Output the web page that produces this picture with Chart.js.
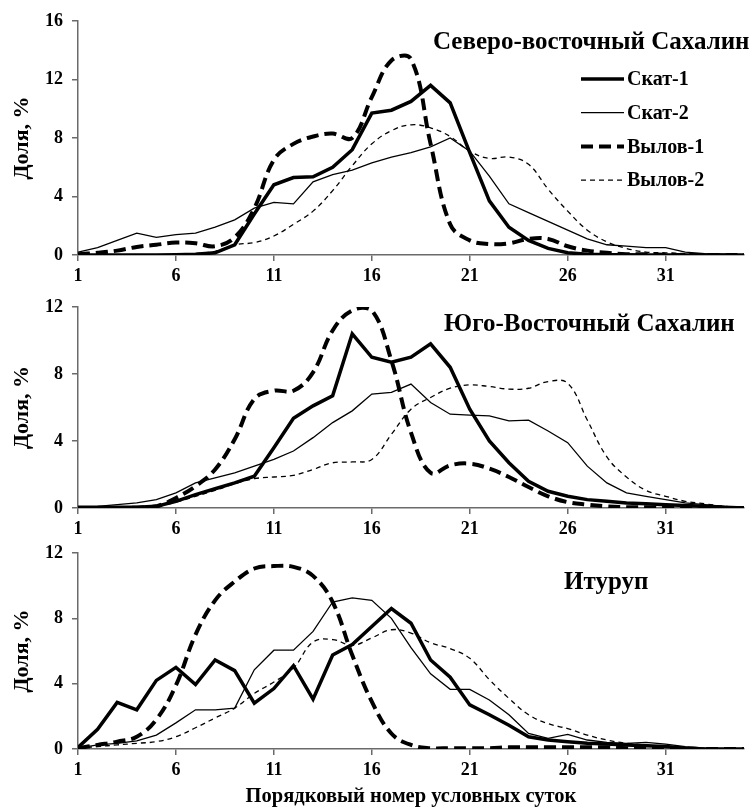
<!DOCTYPE html>
<html>
<head>
<meta charset="utf-8">
<script src="https://cdn.jsdelivr.net/npm/chart.js@4.4.0/dist/chart.umd.min.js"></script>
<style>
  body { margin: 0; background: #fff; }
  .panel { position: absolute; left: 0; }
</style>
</head>
<body>
<div class="panel" style="top:0"><canvas id="ne" width="756" height="282"></canvas></div>
<div class="panel" style="top:285px"><canvas id="se" width="756" height="250"></canvas></div>
<div class="panel" style="top:532px"><canvas id="it" width="756" height="275"></canvas></div>
<script>
// day numbers 1..35
const days = [1,2,3,4,5,6,7,8,9,10,11,12,13,14,15,16,17,18,19,20,21,22,23,24,25,26,27,28,29,30,31,32,33,34,35];
const xTicks = [1, 6, 11, 16, 21, 26, 31];
const seriesNames = ["Скат-1", "Скат-2", "Вылов-1", "Вылов-2"];

// Северо-восточный Сахалин
const skat1NE = [0,0,0,0,0,0.02,0.05,0.15,0.7,2.8,4.8,5.3,5.35,6.0,7.2,9.7,9.9,10.5,11.6,10.4,7.0,3.7,1.9,1.0,0.45,0.15,0.05,0.02,0.02,0,0,0,0,0,0];
const skat2NE = [0.2,0.5,1.0,1.5,1.2,1.4,1.5,1.9,2.4,3.2,3.6,3.5,5.0,5.5,5.8,6.3,6.7,7.0,7.4,8.0,7.1,5.4,3.5,2.9,2.3,1.7,1.1,0.7,0.6,0.5,0.5,0.2,0.1,0.05,0];
const vylov1NE = [0.05,0.15,0.3,0.55,0.7,0.85,0.8,0.6,1.2,3.2,6.5,7.6,8.1,8.3,8.0,10.8,13.3,13.4,7.6,2.1,1.0,0.75,0.8,1.1,1.1,0.6,0.3,0.15,0.05,0.05,0.02,0,0,0,0];
const vylov2NE = [0,0,0,0,0,0.02,0.1,0.25,0.7,0.85,1.3,2.1,3.0,4.4,6.1,7.6,8.5,8.9,8.7,8.1,7.1,6.6,6.7,6.2,4.5,3.0,1.7,0.9,0.45,0.2,0.15,0.1,0.05,0,0];

// Юго-Восточный Сахалин
const skat1SE = [0.05,0.05,0.05,0.05,0.1,0.4,0.8,1.15,1.5,1.9,3.6,5.35,6.1,6.7,10.4,9.0,8.7,9.0,9.8,8.4,5.9,4.0,2.7,1.6,1.0,0.7,0.5,0.4,0.3,0.25,0.2,0.15,0.1,0.05,0];
const skat2SE = [0.05,0.1,0.2,0.3,0.5,0.9,1.5,1.8,2.1,2.5,2.9,3.4,4.2,5.1,5.8,6.8,6.9,7.4,6.3,5.6,5.55,5.5,5.2,5.25,4.6,3.9,2.5,1.5,0.9,0.7,0.5,0.3,0.2,0.1,0.05];
const vylov1SE = [0,0,0,0.02,0.1,0.6,1.3,2.3,4.1,6.5,7.0,7.0,8.1,10.6,11.8,11.8,8.8,4.5,2.1,2.55,2.65,2.35,1.85,1.25,0.7,0.35,0.2,0.1,0.05,0.05,0.02,0,0,0,0];
const vylov2SE = [0,0.02,0.05,0.05,0.1,0.35,0.7,1.05,1.45,1.75,1.85,1.95,2.3,2.7,2.75,2.9,4.4,5.9,6.6,7.15,7.35,7.25,7.1,7.15,7.55,7.45,5.25,3.05,1.85,1.05,0.7,0.4,0.25,0.1,0.05];

// Итуруп
const skat1IT = [0.1,1.2,2.85,2.4,4.2,5.0,3.95,5.45,4.8,2.8,3.7,5.1,3.05,5.75,6.4,7.5,8.6,7.7,5.45,4.4,2.7,2.1,1.45,0.75,0.55,0.45,0.35,0.3,0.25,0.2,0.15,0.05,0,0,0];
const skat2IT = [0.05,0.25,0.35,0.5,0.85,1.6,2.4,2.4,2.5,4.85,6.05,6.05,7.2,9.0,9.25,9.1,8.0,6.2,4.6,3.65,3.65,3.0,2.1,0.95,0.65,0.9,0.55,0.4,0.35,0.4,0.3,0.15,0.05,0.02,0];
const vylov1IT = [0.05,0.25,0.45,0.75,1.8,3.9,7.0,9.1,10.25,11.05,11.2,11.15,10.6,9.0,5.75,2.9,0.95,0.25,0.05,0.05,0.05,0.05,0.1,0.1,0.1,0.1,0.1,0.1,0.05,0.05,0.05,0.02,0,0,0];
const vylov2IT = [0.05,0.15,0.25,0.35,0.45,0.75,1.3,1.9,2.5,3.4,4.1,4.95,6.55,6.7,6.35,6.8,7.3,7.1,6.5,6.15,5.55,4.25,3.1,2.1,1.55,1.25,0.85,0.55,0.35,0.25,0.15,0.05,0,0,0];

const FONT = '"Liberation Serif", "Times New Roman", serif';
const AXIS = '#6a6a6a';

function makeDatasets(s1, s2, v1, v2) {
  return [
    { label: seriesNames[0], data: s1, borderWidth: 3.5, borderDash: [], tension: 0 },
    { label: seriesNames[1], data: s2, borderWidth: 1.3, borderDash: [], tension: 0 },
    { label: seriesNames[2], data: v1, borderWidth: 4, borderDash: [12, 6], tension: 0.4 },
    { label: seriesNames[3], data: v2, borderWidth: 1.3, borderDash: [5, 4], tension: 0.4 },
  ].map(d => Object.assign(d, { borderColor: '#000', pointRadius: 0, fill: false }));
}

// panel caption + optional legend, drawn on top of the chart area
const panelText = {
  id: 'panelText',
  afterDraw(chart, args, o) {
    const ctx = chart.ctx;
    ctx.save();
    ctx.fillStyle = '#000';
    ctx.textBaseline = 'middle';
    ctx.font = 'bold 25px ' + FONT;
    ctx.fillText(o.text, o.x, o.y);
    if (o.legend) {
      ctx.font = 'bold 20px ' + FONT;
      chart.data.datasets.forEach((ds, i) => {
        const y = 79 + i * 33.7;
        ctx.beginPath();
        ctx.strokeStyle = '#000';
        ctx.lineWidth = ds.borderWidth;
        ctx.setLineDash(ds.borderDash);
        ctx.moveTo(581, y);
        ctx.lineTo(624, y);
        ctx.stroke();
        ctx.fillText(ds.label, 627, y + 1);
      });
    }
    ctx.restore();
  }
};

function makePanel(id, datasets, yMax, caption, xAxisHeight, topPad, showXTitle) {
  new Chart(document.getElementById(id), {
    type: 'line',
    data: { labels: days, datasets: datasets },
    plugins: [panelText],
    options: {
      responsive: false,
      animation: false,
      layout: { padding: { top: topPad, right: 12, left: 0, bottom: 0 } },
      plugins: { legend: { display: false }, tooltip: { enabled: false }, panelText: caption },
      scales: {
        x: {
          type: 'linear', min: 1, max: 35,
          afterBuildTicks: axis => { axis.ticks = xTicks.map(v => ({ value: v })); },
          afterFit: s => { s.height = xAxisHeight; },
          grid: { drawOnChartArea: false, tickLength: 6, color: AXIS, lineWidth: 1.5 },
          border: { color: AXIS, width: 1.5 },
          ticks: { color: '#000', font: { family: FONT, size: 18, weight: 'bold' }, padding: 5, maxRotation: 0 },
          title: {
            display: showXTitle, text: 'Порядковый номер условных суток', color: '#000',
            font: { family: FONT, size: 20.5, weight: 'bold', lineHeight: 1 }, padding: { top: 0, bottom: 0 }
          }
        },
        y: {
          min: 0, max: yMax,
          afterFit: s => { s.width = 78; },
          grid: { drawOnChartArea: false, tickLength: 6, color: AXIS, lineWidth: 1.5 },
          border: { color: AXIS, width: 1.5 },
          ticks: { stepSize: 4, color: '#000', font: { family: FONT, size: 18, weight: 'bold' }, padding: 9 },
          title: {
            display: true, text: 'Доля, %', color: '#000',
            font: { family: FONT, size: 22, weight: 'bold' }, padding: { top: 9, bottom: 0 }
          }
        }
      }
    }
  });
}

makePanel('ne', makeDatasets(skat1NE, skat2NE, vylov1NE, vylov2NE), 16,
  { text: 'Северо-восточный Сахалин', x: 433, y: 43, legend: true }, 27, 21, false);
makePanel('se', makeDatasets(skat1SE, skat2SE, vylov1SE, vylov2SE), 12,
  { text: 'Юго-Восточный Сахалин', x: 444, y: 40, legend: false }, 27, 22, false);
makePanel('it', makeDatasets(skat1IT, skat2IT, vylov1IT, vylov2IT), 12,
  { text: 'Итуруп', x: 564, y: 51, legend: false }, 58, 21, true);
</script>
</body>
</html>
